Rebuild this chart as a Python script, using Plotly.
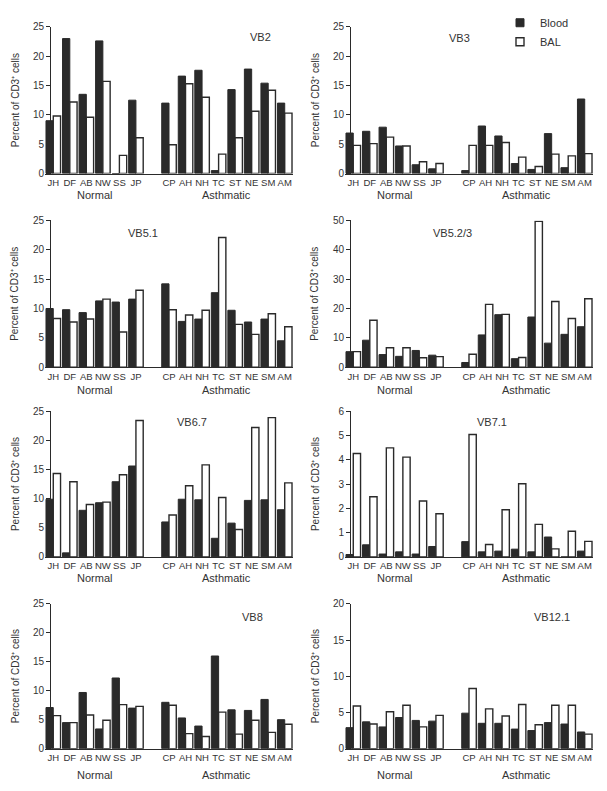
import plotly.graph_objects as go

# The page body keeps the browser's default 8px margin, so the figure is
# sized to fit inside the window and pixel positions are offset by it.
WIN_W, WIN_H = 607, 791
OFF = 8
W, H = WIN_W - 2 * OFF, WIN_H - 2 * OFF

normal_subjects = ["JH", "DF", "AB", "NW", "SS", "JP"]
asthmatic_subjects = ["CP", "AH", "NH", "TC", "ST", "NE", "SM", "AM"]
spacer = " "
categories = normal_subjects + [spacer] + asthmatic_subjects

# values: normal (6) then asthmatic (8)
vb2_blood = [9.0, 23.0, 13.5, 22.6, 0.0, 12.5, 12.0, 16.6, 17.6, 0.5, 14.3, 17.8, 15.4, 12.0]
vb2_bal = [9.8, 12.2, 9.6, 15.7, 3.1, 6.1, 4.9, 15.3, 13.0, 3.3, 6.1, 10.6, 14.2, 10.3]
vb3_blood = [6.9, 7.2, 7.9, 4.7, 1.5, 0.8, 0.5, 8.1, 6.4, 1.7, 0.7, 6.8, 1.0, 12.7]
vb3_bal = [4.8, 5.1, 6.2, 4.7, 2.0, 1.7, 4.8, 4.8, 5.3, 2.8, 1.2, 3.3, 3.0, 3.4]
vb51_blood = [10.0, 9.8, 9.3, 11.3, 11.1, 11.6, 14.2, 7.8, 8.2, 12.7, 9.7, 7.7, 8.2, 4.5]
vb51_bal = [8.3, 7.7, 8.2, 11.6, 6.0, 13.1, 9.8, 8.9, 9.7, 22.1, 7.3, 5.6, 9.1, 6.9]
vb523_blood = [5.3, 9.2, 4.3, 3.7, 5.7, 4.1, 1.6, 11.0, 17.9, 2.9, 17.1, 8.2, 11.2, 13.8]
vb523_bal = [5.3, 16.0, 6.6, 6.6, 3.2, 3.6, 4.4, 21.4, 18.0, 3.3, 49.7, 22.4, 16.6, 23.3]
vb67_blood = [9.9, 0.7, 8.0, 9.3, 12.9, 15.6, 6.0, 9.9, 9.8, 3.2, 5.8, 9.7, 9.8, 8.1]
vb67_bal = [14.3, 12.9, 9.0, 9.4, 14.1, 23.4, 7.2, 12.2, 15.8, 10.2, 4.7, 22.2, 23.9, 12.7]
vb71_blood = [0.1, 0.5, 0.12, 0.21, 0.12, 0.43, 0.63, 0.21, 0.24, 0.32, 0.21, 0.82, 0.0, 0.24]
vb71_bal = [4.26, 2.48, 4.49, 4.11, 2.3, 1.78, 5.04, 0.51, 1.94, 3.01, 1.34, 0.33, 1.06, 0.64]
vb8_blood = [7.1, 4.5, 9.7, 3.4, 12.2, 7.0, 8.0, 5.3, 3.9, 16.0, 6.7, 6.6, 8.5, 5.0]
vb8_bal = [5.7, 4.5, 5.8, 4.9, 7.6, 7.3, 7.5, 2.6, 2.1, 6.3, 2.5, 4.9, 2.8, 4.2]
vb121_blood = [2.9, 3.7, 3.0, 4.3, 3.9, 3.8, 4.9, 3.5, 3.5, 2.7, 2.5, 3.6, 3.4, 2.3]
vb121_bal = [5.9, 3.4, 5.1, 6.0, 3.0, 4.6, 8.3, 5.5, 4.5, 6.1, 3.3, 6.0, 6.0, 2.0]

panel_titles = ["VB2", "VB3", "VB5.1", "VB5.2/3", "VB6.7", "VB7.1", "VB8", "VB12.1"]
blood_series = [vb2_blood, vb3_blood, vb51_blood, vb523_blood, vb67_blood, vb71_blood, vb8_blood, vb121_blood]
bal_series = [vb2_bal, vb3_bal, vb51_bal, vb523_bal, vb67_bal, vb71_bal, vb8_bal, vb121_bal]
y_max = [25, 25, 25, 50, 25, 6, 25, 20]
y_step = [5, 5, 5, 10, 5, 1, 5, 5]
group_labels = ["Normal", "Asthmatic"]
y_title = "Percent of CD3\u207a cells"

# layout in window pixels
col_x = [(45, 293), (345, 593)]
axis_x = [50, 350]
ytitle_x = [15, 315]
row_y = [(16, 166), (214, 364), (409, 558), (606, 754)]
title_px = [(260, 26), (459, 27), (143, 227), (452, 227), (192, 420), (492, 420), (252, 619), (552, 619)]
group_dy = [22, 22, 23, 23, 22, 22, 27, 27]
legend_px = (500, -3)

DARK = "#2a2a2a"
TXT = "#333333"
FONT = "Liberation Sans, Arial, Helvetica, sans-serif"

fig = go.Figure()
annotations = []

def px_x(p):
    return (p - OFF) / W

def px_y(p):
    return 1 - (p - OFF) / H

xs = normal_subjects + asthmatic_subjects

for i in range(8):
    r, c = divmod(i, 2)
    n = i + 1
    xa = "x" if n == 1 else f"x{n}"
    ya = "y" if n == 1 else f"y{n}"
    fig.add_trace(go.Bar(
        x=xs, y=blood_series[i], name="Blood", xaxis=xa, yaxis=ya,
        marker=dict(color=DARK, line=dict(color=DARK, width=1)),
        showlegend=False, legendgroup="blood", cliponaxis=False,
    ))
    fig.add_trace(go.Bar(
        x=xs, y=bal_series[i], name="BAL", xaxis=xa, yaxis=ya,
        marker=dict(color="white", line=dict(color=DARK, width=1.4)),
        showlegend=False, legendgroup="bal", cliponaxis=False,
    ))
    x0, x1 = col_x[c]
    y0, y1 = row_y[r]
    xkey = "xaxis" if n == 1 else f"xaxis{n}"
    ykey = "yaxis" if n == 1 else f"yaxis{n}"
    fig.layout[xkey] = dict(
        domain=[px_x(x0), px_x(x1)], anchor=ya,
        type="category", categoryorder="array", categoryarray=categories,
        range=[-0.5, len(categories) - 0.5],
        tickmode="array", tickvals=xs, ticktext=xs,
        showline=True, linecolor=DARK, linewidth=1, ticks="",
        tickangle=0,
        tickfont=dict(size=9.5, color=TXT, family=FONT),
        showgrid=False, zeroline=False, fixedrange=True,
    )
    fig.layout[ykey] = dict(
        domain=[px_y(y1), px_y(y0)], anchor="free", position=px_x(axis_x[c]),
        range=[0, y_max[i]], dtick=y_step[i], tick0=0,
        showline=True, linecolor=DARK, linewidth=1, ticks="outside", ticklen=4,
        tickcolor=DARK, tickwidth=1,
        tickfont=dict(size=10, color=TXT, family=FONT),
        showgrid=False, zeroline=False, fixedrange=True,
    )
    tx, ty = title_px[i]
    annotations.append(dict(
        x=px_x(tx), y=px_y(ty), xref="paper", yref="paper", text=panel_titles[i],
        showarrow=False, xanchor="center", yanchor="middle",
        font=dict(size=11, color=TXT, family=FONT),
    ))
    annotations.append(dict(
        x=px_x(ytitle_x[c]), y=px_y((y0 + y1) / 2), xref="paper", yref="paper",
        text=y_title, textangle=-90, showarrow=False,
        xanchor="center", yanchor="middle",
        font=dict(size=10, color=TXT, family=FONT),
    ))
    centers = [(len(normal_subjects) - 1) / 2,
               len(normal_subjects) + 1 + (len(asthmatic_subjects) - 1) / 2]
    for g, cx in zip(group_labels, centers):
        annotations.append(dict(
            x=cx, y=px_y(y1 + group_dy[i]), xref=xa, yref="paper", text=g,
            showarrow=False, xanchor="center", yanchor="middle",
            font=dict(size=11, color=TXT, family=FONT),
        ))

# legend entries (small square symbols)
fig.add_trace(go.Scatter(
    x=[None], y=[None], mode="markers", name="Blood", legendgroup="blood",
    marker=dict(symbol="square", size=8, color=DARK, line=dict(color=DARK, width=1)),
    xaxis="x2", yaxis="y2",
))
fig.add_trace(go.Scatter(
    x=[None], y=[None], mode="markers", name="BAL", legendgroup="bal",
    marker=dict(symbol="square", size=8, color="white", line=dict(color=DARK, width=1.4)),
    xaxis="x2", yaxis="y2",
))

fig.update_layout(
    width=W, height=H,
    margin=dict(l=0, r=0, t=0, b=0),
    paper_bgcolor="white", plot_bgcolor="white",
    barmode="group", bargap=0.12, bargroupgap=0.0,
    showlegend=True,
    legend=dict(
        x=px_x(legend_px[0]), y=px_y(legend_px[1]), xanchor="left", yanchor="top",
        font=dict(size=11, color=TXT, family=FONT),
        bgcolor="rgba(0,0,0,0)", tracegroupgap=0, itemwidth=30,
    ),
    annotations=annotations,
    font=dict(family=FONT, color=TXT),
)

fig.write_html("out.html")
